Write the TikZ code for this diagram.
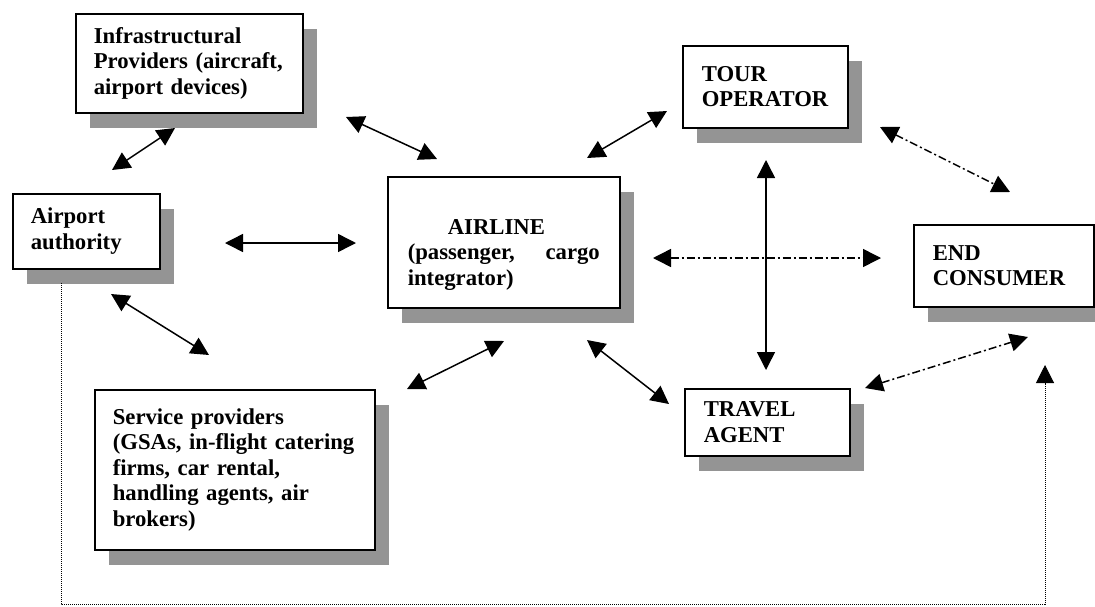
\documentclass[tikz,border=0pt]{standalone}
\usepackage{fontspec}
\setmainfont{Liberation Serif}
\usetikzlibrary{arrows.meta,shadows}
\begin{document}
\begin{tikzpicture}[x=1pt,y=-1pt,
  box/.style={draw, line width=1.6pt, fill=white, rectangle, anchor=north west,
    align=left, inner xsep=18pt, inner ysep=0pt,
    font=\bfseries\fontsize{22.7}{25.5}\selectfont,
    drop shadow={shadow xshift=14pt, shadow yshift=-15pt, fill=black!42, opacity=1, draw=none}},
  tip/.tip={Triangle[length=18pt,width=18pt]},
  link/.style={tip-tip, line width=1.5pt},
  dashdot/.style={link, dash pattern=on 8pt off 3pt on 2pt off 3pt},
  dotline/.style={-tip, line width=1pt, dash pattern=on 1pt off 1pt}]
\useasboundingbox (0,0) rectangle (1095,606);
\fill[white] (0,0) rectangle (1095,606);

% boxes
\node[box, minimum width=227pt, minimum height=99pt, text width=191pt] (infra) at (75,13)
  {Infrastructural\\Providers~(aircraft,\\airport~devices)};
\node[box, minimum width=147pt, minimum height=75pt, text width=111pt] (airport) at (12,193)
  {Airport\\authority};
\node[box, minimum width=232pt, minimum height=131pt, text width=192pt, inner xsep=20pt] (airline) at (387,176)
  {\rule{0pt}{40pt}\hspace*{40pt}AIRLINE\\(passenger,\hfill cargo\\integrator)};
\node[box, minimum width=165pt, minimum height=82pt, text width=127pt, inner xsep=19pt] (tour) at (682,45)
  {TOUR\\OPERATOR};
\node[box, minimum width=180pt, minimum height=82pt, text width=142pt, inner xsep=19pt] (consumer) at (913,224)
  {END\\CONSUMER};
\node[box, minimum width=165pt, minimum height=67pt, text width=127pt, inner xsep=19pt] (travel) at (684,388)
  {TRAVEL\\AGENT};
\node[box, minimum width=280pt, minimum height=160pt, text width=244pt] (service) at (94,389)
  {Service~providers\\(GSAs,~in-flight~catering\\firms,~car~rental,\\handling~agents,~air\\brokers)};

% connector end points
\coordinate (ia1) at (112,170);  \coordinate (ia2) at (175,128);
\coordinate (il1) at (346,117);  \coordinate (il2) at (437,159);
\coordinate (al1) at (225,243);  \coordinate (al2) at (356,243);
\coordinate (as1) at (111,294);  \coordinate (as2) at (209,355);
\coordinate (sl1) at (407,389);  \coordinate (sl2) at (504,341);
\coordinate (lt1) at (587,158);  \coordinate (lt2) at (667,111);
\coordinate (lv1) at (587,340);  \coordinate (lv2) at (669,404);
\coordinate (tv1) at (766,160);  \coordinate (tv2) at (766,370);
\coordinate (lc1) at (653,258);  \coordinate (lc2) at (881,258);
\coordinate (tc1) at (880,127);  \coordinate (tc2) at (1010,192);
\coordinate (vc1) at (865,388);  \coordinate (vc2) at (1028,337);
\coordinate (ds) at (61,283);    \coordinate (dc) at (1045,604);
\coordinate (de) at (1045,365);

% connectors
\draw[link] (ia1) -- (ia2);
\draw[link] (il1) -- (il2);
\draw[link] (al1) -- (al2);
\draw[link] (as1) -- (as2);
\draw[link] (sl1) -- (sl2);
\draw[link] (lt1) -- (lt2);
\draw[link] (lv1) -- (lv2);
\draw[link] (tv1) -- (tv2);
\draw[dashdot] (lc1) -- (lc2);
\draw[dashdot] (tc1) -- (tc2);
\draw[dashdot] (vc1) -- (vc2);
\draw[dotline] (ds) |- (dc) -- (de);
\end{tikzpicture}
\end{document}
